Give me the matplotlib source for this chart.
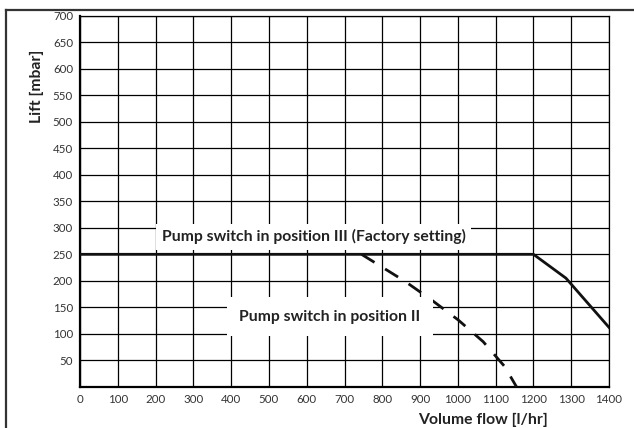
import numpy as np
import matplotlib.pyplot as plt
from matplotlib.lines import Line2D

# position III (factory setting) - solid
flow_iii = [0, 1200, 1286, 1400]
lift_iii = [250, 250, 205, 112]

# position II - dashed (splits off the solid line at ~745 l/hr)
flow_ii = [745, 860, 930, 1001, 1067, 1124, 1155]
lift_ii = [250, 199, 164, 126, 85, 38, 0]

xticks = list(range(0, 1401, 100))
yticks = list(range(50, 701, 50))

plt.rcParams['font.family'] = ['Lato', 'DejaVu Sans']

fig = plt.figure(figsize=(6.34, 4.28), dpi=100)
ax = fig.add_axes([80/634, 1-386.7/428, 529/634, 370.7/428])

ax.set_xlim(0, 1400)
ax.set_ylim(0, 700)
ax.set_xticks(xticks)
ax.set_yticks(yticks)
ax.grid(True, color='black', linewidth=0.9)
ax.set_axisbelow(True)
ax.tick_params(length=0, labelsize=8.3, labelcolor='#333333', pad=5)

for s in ['top', 'right']:
	ax.spines[s].set_linewidth(0.9)
for s in ['left', 'bottom']:
	ax.spines[s].set_linewidth(1.6)

ax.plot(flow_ii, lift_ii, color='#111111', lw=2.0, ls=(0, (5.5, 4.5)), zorder=3)
ax.plot(flow_iii, lift_iii, color='#111111', lw=2.0, zorder=4)

ax.text(619, 283, 'Pump switch in position III (Factory setting)', ha='center', va='center',
	fontsize=11.3, fontweight='bold', color='#222222', zorder=5,
	bbox=dict(facecolor='white', edgecolor='none', pad=4))
ax.text(661, 132, 'Pump switch in position II', ha='center', va='center',
	fontsize=11.3, fontweight='bold', color='#222222', zorder=5,
	bbox=dict(facecolor='white', edgecolor='none', pad=9))

ax.text(1066, -62, 'Volume flow [l/hr]', ha='center', va='center',
	fontsize=11.3, fontweight='bold', color='#222222', clip_on=False)
ax.text(-114, 568, 'Lift [mbar]', ha='center', va='center', rotation=90,
	fontsize=11.3, fontweight='bold', color='#222222', clip_on=False)

# outer frame (left and top edges)
fig.add_artist(Line2D([6/634, 6/634], [0, 1-10/428], color='#333333', lw=1.6, transform=fig.transFigure))
fig.add_artist(Line2D([6/634, 1], [1-10/428, 1-10/428], color='#333333', lw=1.6, transform=fig.transFigure))

plt.savefig('out.png', dpi=100)
